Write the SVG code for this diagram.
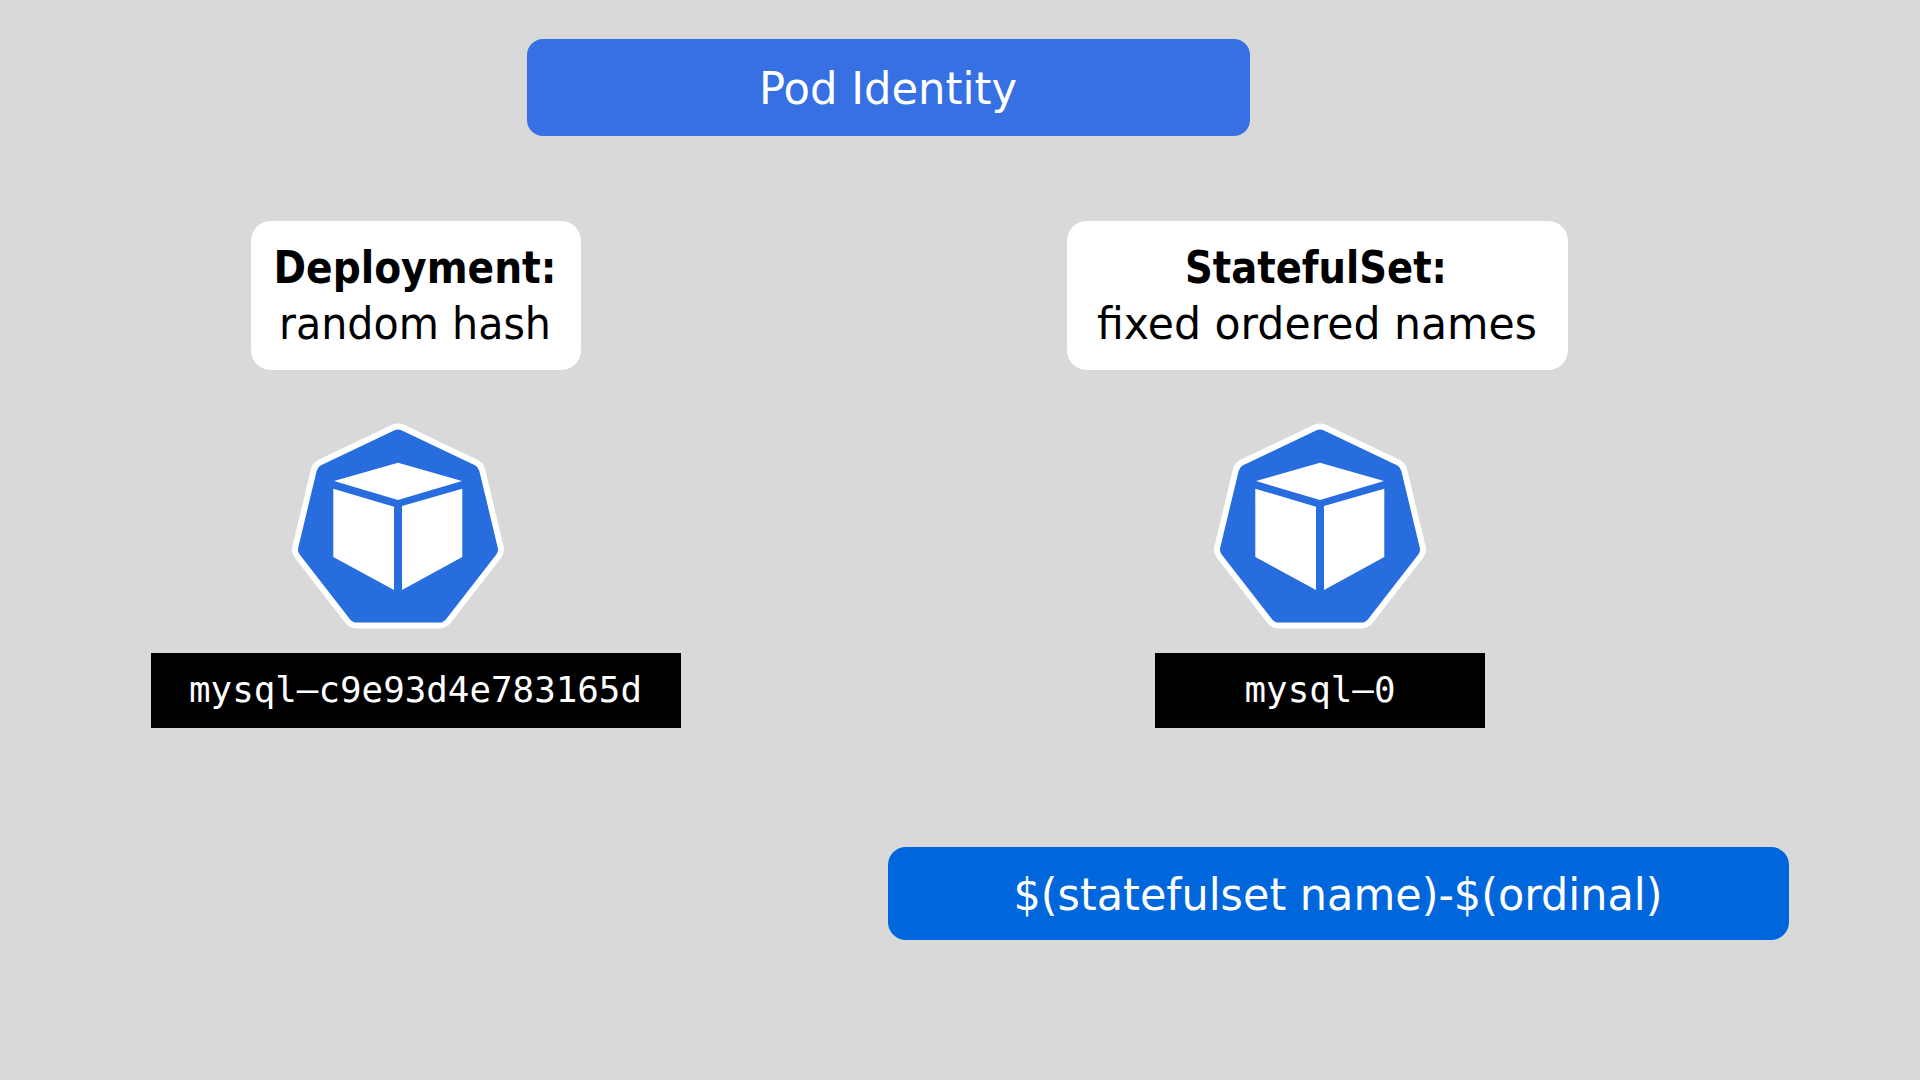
<svg xmlns="http://www.w3.org/2000/svg" width="1920" height="1080" viewBox="0 0 1920 1080">
<style>
.t{font-family:"DejaVu Sans","Liberation Sans",sans-serif;text-anchor:middle}
.m{font-family:"DejaVu Sans Mono","Liberation Mono",monospace;text-anchor:middle;fill:#fff;font-size:36px}
.l{font-size:44px;fill:#000}
.w{font-size:45px;fill:#fff}
</style>
<defs>
<g id="pod">
<polygon points="398,437.500 471.500,472.500 490,549.500 439.500,614.500 356.500,614.500 306,549.500 324.500,472.500" fill="#fff" stroke="#fff" stroke-width="28" stroke-linejoin="round"/>
<polygon points="398,437.500 471.500,472.500 490,549.500 439.500,614.500 356.500,614.500 306,549.500 324.500,472.500" fill="#276ddd" stroke="#276ddd" stroke-width="16" stroke-linejoin="round"/>
<polygon points="398,462.700 462,481 398,500 334,481" fill="#fff"/>
<polygon points="333.300,488.700 394,506.700 394,590 333.300,557" fill="#fff"/>
<polygon points="462.300,488.700 402,506 402,590 462.300,557" fill="#fff"/>
</g>
</defs>
<rect width="1920" height="1080" fill="#d9d9d9"/>
<g id="connectors"/>
<g id="title"><rect x="527" y="39" width="723" height="97" rx="16" fill="#3670e3"/><text class="t w" x="888" y="104" textLength="258" lengthAdjust="spacingAndGlyphs">Pod Identity</text></g>
<g id="deployment"><rect x="251" y="221" width="330" height="149" rx="20" fill="#fff"/><text class="t l" x="415" y="283" font-weight="700" textLength="283" lengthAdjust="spacingAndGlyphs">Deployment:</text><text class="t l" x="415" y="339" textLength="272" lengthAdjust="spacingAndGlyphs">random hash</text></g>
<g id="statefulset"><rect x="1067" y="221" width="501" height="149" rx="20" fill="#fff"/><text class="t l" x="1316" y="283" font-weight="700" textLength="262" lengthAdjust="spacingAndGlyphs">StatefulSet:</text><text class="t l" x="1317" y="339" textLength="440" lengthAdjust="spacingAndGlyphs">fixed ordered names</text></g>
<g id="pod-deployment"><use href="#pod"/></g>
<g id="pod-statefulset"><use href="#pod" x="922"/></g>
<g id="name-deployment"><rect x="151" y="653" width="530" height="75" fill="#000"/><text class="m" x="415.500" y="702" textLength="453" lengthAdjust="spacingAndGlyphs">mysql–c9e93d4e783165d</text></g>
<g id="name-statefulset"><rect x="1155" y="653" width="330" height="75" fill="#000"/><text class="m" x="1320" y="702" textLength="151" lengthAdjust="spacingAndGlyphs">mysql–0</text></g>
<g id="formula"><rect x="888" y="847" width="901" height="93" rx="18" fill="#0066db"/><text class="t w" x="1338" y="910" textLength="649" lengthAdjust="spacingAndGlyphs">$(statefulset name)-$(ordinal)</text></g>
</svg>
